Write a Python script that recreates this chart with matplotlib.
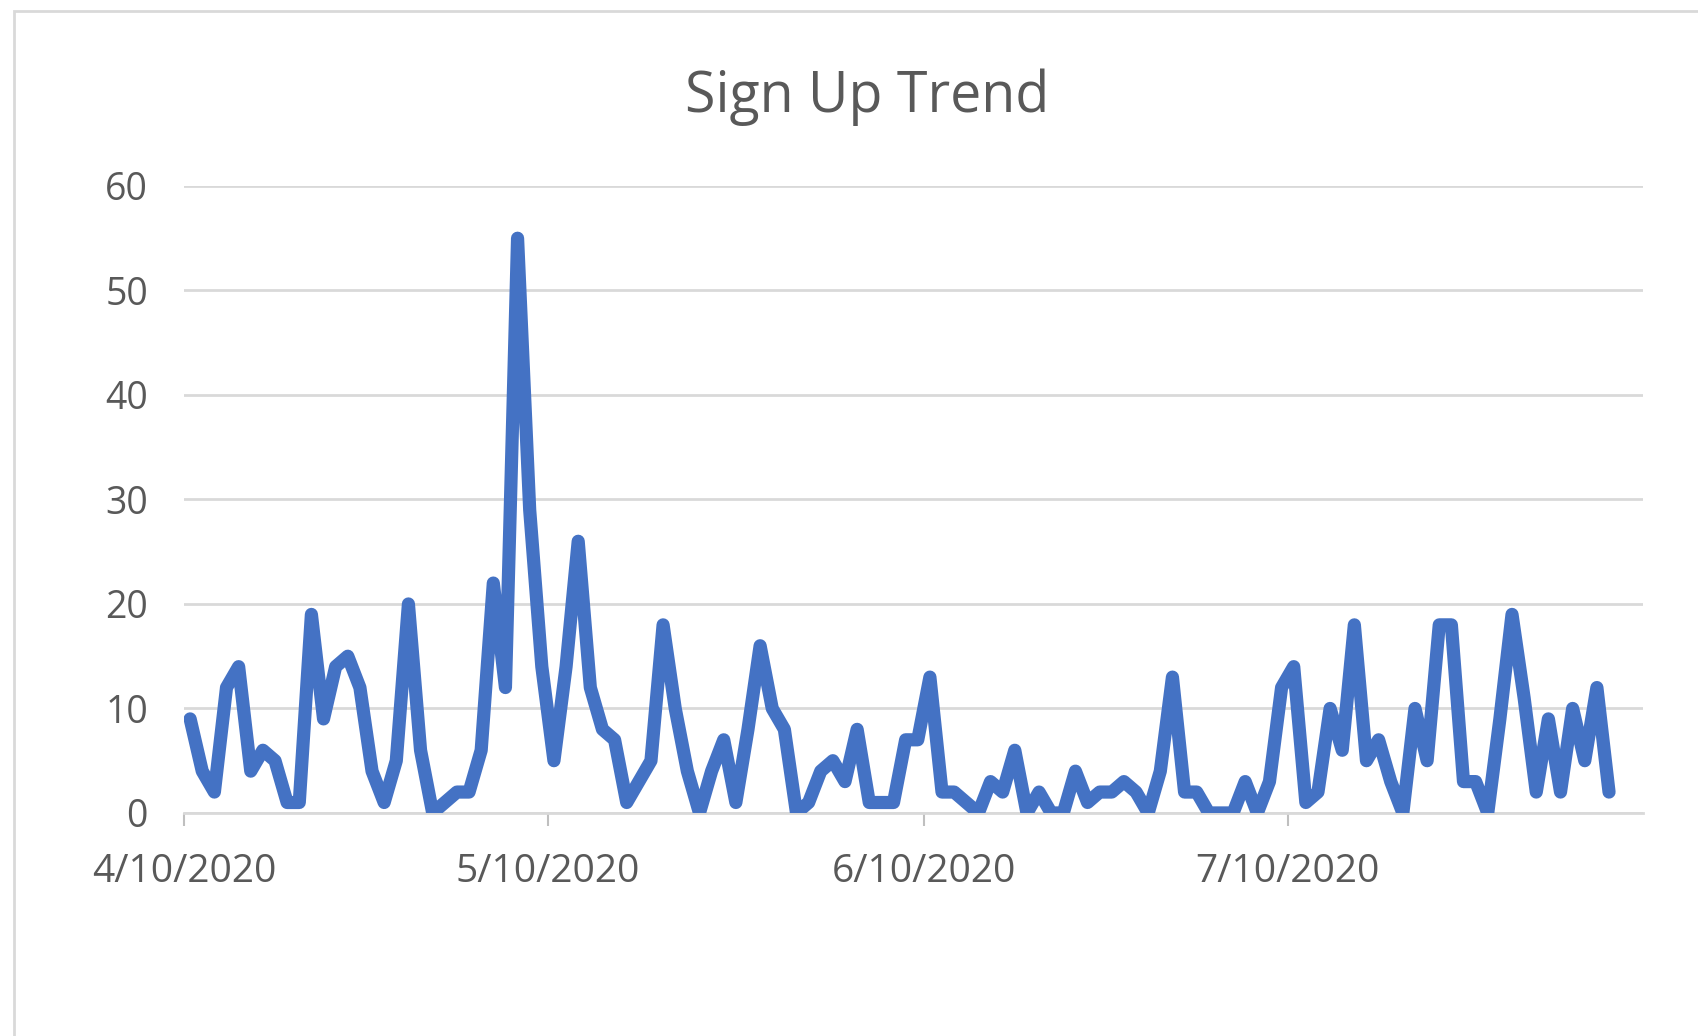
import matplotlib
matplotlib.use("Agg")
import matplotlib.pyplot as plt
import matplotlib.dates as mdates
from matplotlib.patches import Rectangle
import numpy as np
import datetime as dt

# daily sign ups from 4/10/2020 on
start = dt.date(2020, 4, 10)
signups = [9, 4, 2, 12, 14, 4, 6, 5, 1, 1, 19, 9, 14, 15, 12, 4, 1, 5, 20,
           6, 0, 1, 2, 2, 6, 22, 12, 55, 29, 14, 5, 14, 26, 12, 8, 7, 1, 3,
           5, 18, 10, 4, 0, 4, 7, 1, 8, 16, 10, 8, 0, 1, 4, 5, 3, 8, 1,
           1, 1, 7, 7, 13, 2, 2, 1, 0, 3, 2, 6, 0, 2, 0, 0, 4, 1, 2,
           2, 3, 2, 0, 4, 13, 2, 2, 0, 0, 0, 3, 0, 3, 12, 14, 1, 2, 10,
           6, 18, 5, 7, 3, 0, 10, 5, 18, 18, 3, 3, 0, 9, 19, 11, 2, 9, 2,
           10, 5, 12, 2]
tick_dates = [dt.date(2020, 4, 10), dt.date(2020, 5, 10),
              dt.date(2020, 6, 10), dt.date(2020, 7, 10)]
y_ticks = [0, 10, 20, 30, 40, 50, 60]

plt.rcParams['font.family'] = ['Open Sans', 'DejaVu Sans']

x0 = mdates.date2num(start)
days = x0 + np.arange(len(signups)) + 0.5   # points sit mid-day like Excel

fig = plt.figure(figsize=(16.98, 10.36), dpi=100)
fig.patches.append(Rectangle((14 / 1698, -0.1), 1.2, 1 - 11 / 1036 + 0.1,
                             transform=fig.transFigure, fill=False,
                             edgecolor='#D9D9D9', linewidth=2))
ax = fig.add_axes([0.1084, 0.2153, 0.9676 - 0.1084, 0.8205 - 0.2153])

ax.plot(days, signups, color='#4472C4', linewidth=9.5,
        solid_joinstyle='round', solid_capstyle='round', zorder=3)

ax.set_xlim(x0, x0 + 120.3)
ax.set_ylim(0, 60)
ax.set_yticks(y_ticks)
ax.set_xticks([mdates.date2num(d) for d in tick_dates])
ax.set_xticklabels([f"{d.month}/{d.day}/{d.year}" for d in tick_dates])

ax.grid(axis='y', color='#D9D9D9', linewidth=2)
ax.set_axisbelow(True)
for s in ['top', 'right', 'left']:
    ax.spines[s].set_visible(False)
ax.spines['bottom'].set_color('#D9D9D9')
ax.spines['bottom'].set_linewidth(2)
ax.tick_params(axis='y', length=0, pad=26, labelsize=27, labelcolor='#595959')
ax.tick_params(axis='x', length=9, width=1.5, color='#BFBFBF', pad=20,
               labelsize=28, labelcolor='#595959')

fig.text(867 / 1698, 1 - 112 / 1036, "Sign Up Trend", ha='center',
         va='baseline', fontsize=40, color='#595959')

fig.savefig("out.png", dpi=100)
